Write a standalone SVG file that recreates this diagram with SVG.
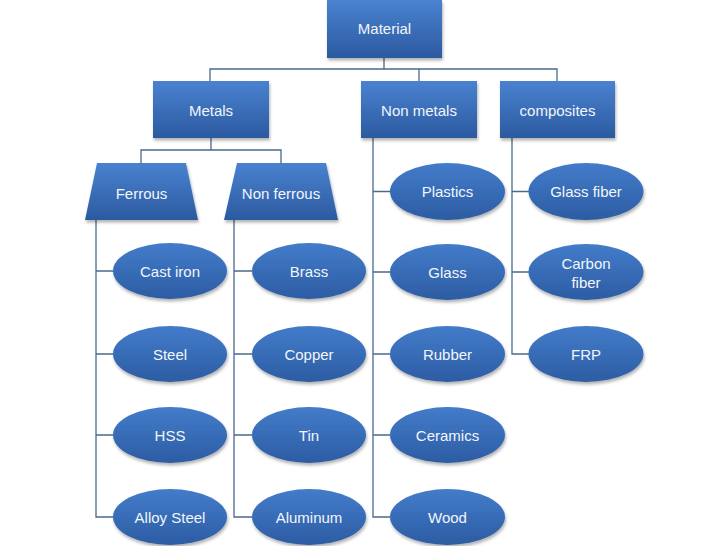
<svg xmlns="http://www.w3.org/2000/svg" width="728" height="546" viewBox="0 0 728 546">
<defs>
<linearGradient id="gBox" x1="0" y1="0" x2="0" y2="1">
<stop offset="0" stop-color="#4a82d0"/>
<stop offset="1" stop-color="#2b5aa0"/>
</linearGradient>
<linearGradient id="gEll" x1="0" y1="0" x2="0" y2="1">
<stop offset="0" stop-color="#437cca"/>
<stop offset="1" stop-color="#2c5ca3"/>
</linearGradient>
<filter id="sh" x="-20%" y="-20%" width="150%" height="160%">
<feDropShadow dx="1" dy="2.5" stdDeviation="1.5" flood-color="#000" flood-opacity="0.3"/>
</filter>
<style>
.box{fill:url(#gBox);filter:url(#sh)}
.ell{fill:url(#gEll);filter:url(#sh)}
.t{font-family:"Liberation Sans","Noto Sans",Arial,sans-serif;font-size:15px;fill:#f2f6fb;text-anchor:middle;dominant-baseline:central}
.c{fill:none;stroke:#4a6a8c;stroke-width:1.3}
</style>
</defs>
<rect width="728" height="546" fill="#ffffff"/>
<g id="connectors">
<path class="c" d="M384,58V69M210,81V69H557V81M419,69V81"/>
<path class="c" d="M211,138V150M141,163V150H281V163"/>
<path class="c" d="M96,220V517H113M96,271H113M96,354H113M96,435H113"/>
<path class="c" d="M234,220V517H252M234,271H252M234,354H252M234,435H252"/>
<path class="c" d="M373,138V517H390M373,191.5H390M373,272H390M373,354H390M373,435H390"/>
<path class="c" d="M512,138V354H529M512,191.5H529M512,272H529"/>
</g>
<g id="material"><rect class="box" x="327" y="0" width="115" height="58"/><text class="t" x="384.5" y="28">Material</text></g>
<g id="metals"><rect class="box" x="153" y="81" width="116" height="57"/><text class="t" x="211" y="110">Metals</text></g>
<g id="nonmetals"><rect class="box" x="361" y="81" width="116" height="57"/><text class="t" x="419" y="110">Non metals</text></g>
<g id="composites"><rect class="box" x="500" y="81" width="115" height="57"/><text class="t" x="557.5" y="110">composites</text></g>
<g id="ferrous"><polygon class="box" points="97,163 186,163 198,220 85,220"/><text class="t" x="141.5" y="193">Ferrous</text></g>
<g id="nonferrous"><polygon class="box" points="237,163 326,163 338,220 224,220"/><text class="t" x="281" y="193">Non ferrous</text></g>
<g id="castiron"><ellipse class="ell" cx="170" cy="271" rx="57" ry="28"/><text class="t" x="170" y="271">Cast iron</text></g>
<g id="steel"><ellipse class="ell" cx="170" cy="354" rx="57" ry="28"/><text class="t" x="170" y="354">Steel</text></g>
<g id="hss"><ellipse class="ell" cx="170" cy="435" rx="57" ry="28"/><text class="t" x="170" y="435">HSS</text></g>
<g id="alloysteel"><ellipse class="ell" cx="170" cy="517" rx="57" ry="28"/><text class="t" x="170" y="517">Alloy Steel</text></g>
<g id="brass"><ellipse class="ell" cx="309" cy="271" rx="57" ry="28"/><text class="t" x="309" y="271">Brass</text></g>
<g id="copper"><ellipse class="ell" cx="309" cy="354" rx="57" ry="28"/><text class="t" x="309" y="354">Copper</text></g>
<g id="tin"><ellipse class="ell" cx="309" cy="435" rx="57" ry="28"/><text class="t" x="309" y="435">Tin</text></g>
<g id="aluminum"><ellipse class="ell" cx="309" cy="517" rx="57" ry="28"/><text class="t" x="309" y="517">Aluminum</text></g>
<g id="plastics"><ellipse class="ell" cx="447.5" cy="191.5" rx="57.5" ry="28.5"/><text class="t" x="447.5" y="191">Plastics</text></g>
<g id="glass"><ellipse class="ell" cx="447.5" cy="272" rx="57.5" ry="28"/><text class="t" x="447.5" y="272">Glass</text></g>
<g id="rubber"><ellipse class="ell" cx="447.5" cy="354" rx="57.5" ry="28"/><text class="t" x="447.5" y="354">Rubber</text></g>
<g id="ceramics"><ellipse class="ell" cx="447.5" cy="435" rx="57.5" ry="28"/><text class="t" x="447.5" y="435">Ceramics</text></g>
<g id="wood"><ellipse class="ell" cx="447.5" cy="517" rx="57.5" ry="28"/><text class="t" x="447.5" y="517">Wood</text></g>
<g id="glassfiber"><ellipse class="ell" cx="586" cy="191.5" rx="57.5" ry="28.5"/><text class="t" x="586" y="191">Glass fiber</text></g>
<g id="carbonfiber"><ellipse class="ell" cx="586" cy="272" rx="57.5" ry="28"/><text class="t" x="586" y="263">Carbon</text><text class="t" x="586" y="282">fiber</text></g>
<g id="frp"><ellipse class="ell" cx="586" cy="354" rx="57.5" ry="28"/><text class="t" x="586" y="354">FRP</text></g>
</svg>
